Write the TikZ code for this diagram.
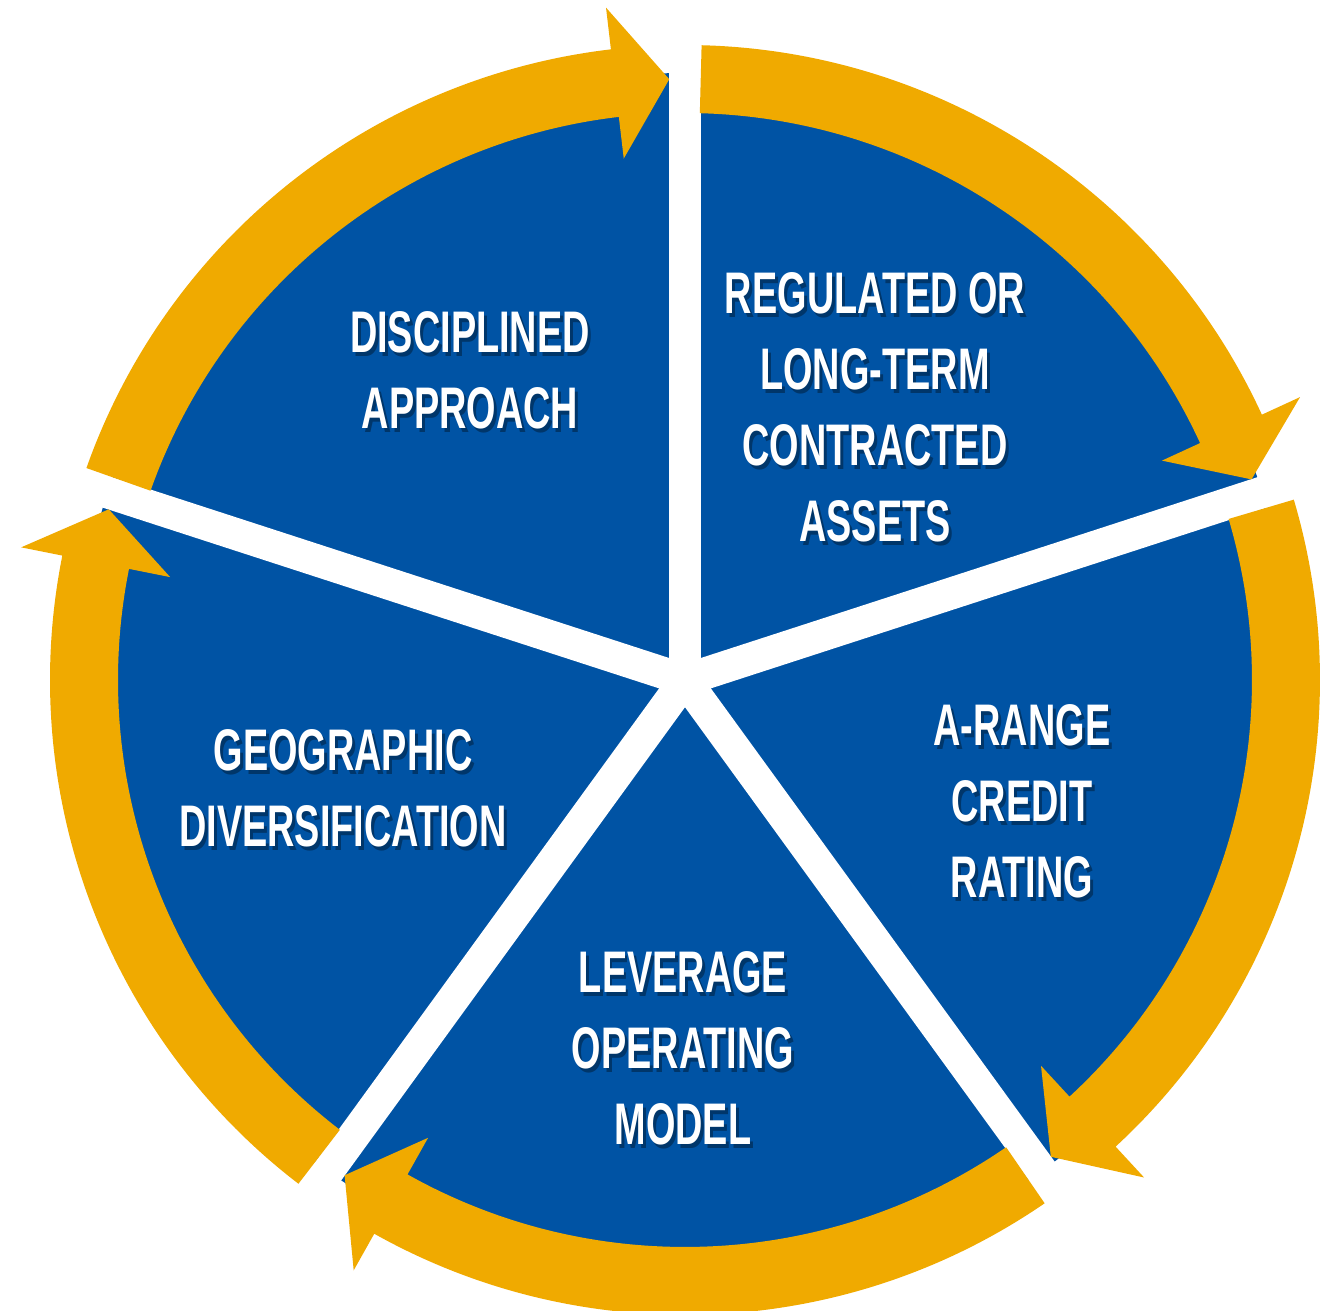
\documentclass[tikz,border=0pt]{standalone}
\usepackage{fontspec}
\setmainfont{Liberation Sans}
\newfontfamily\cyclefont{Liberation Sans}[FakeStretch=0.645]
\usepackage{tikz}
\usetikzlibrary{positioning}
\definecolor{cycleblue}{RGB}{0,83,164}
\definecolor{cycleorange}{RGB}{240,170,0}
\tikzset{
  seg text/.style={text=white, align=center, inner sep=0pt,
    font=\cyclefont\bfseries\fontsize{16.7}{21.6}\selectfont},
  seg shadow/.style={seg text, text=black, text opacity=0.35},
  gap/.style={white, line width=0.32cm},
  ring arrow/.style={fill=cycleorange, draw=none}
}

\begin{document}
\begin{tikzpicture}
  \useasboundingbox (-6.85,-6.31) rectangle (6.45,6.80);
  \fill[cycleblue] (0,0) circle (6.07);
  \foreach \b in {90,18,-54,-126,162}
    \draw[gap] (0,0) -- (\b:6.25);
  % orange arrows, clockwise
  \foreach \b in {162,90,18,-54,-126}{
    \pgfmathsetmacro\s{\b-1.5}
    \pgfmathsetmacro\t{\b-70.5}
    \pgfmathsetmacro\h{\b-65.3}
    \fill[ring arrow] (\s:6.35) arc[start angle=\s, end angle=\h, radius=6.35]
      -- (\h:6.77) -- (\t:6.01) -- (\h:5.25) -- (\h:5.67)
      arc[start angle=\h, end angle=\s, radius=5.67] -- cycle;
  }
  \node[seg shadow] at (-2.12,3.06) {DISCIPLINED\\APPROACH};
  \node[seg text] (disc) at (-2.15,3.095) {DISCIPLINED\\APPROACH};
  \node[seg shadow] at (1.93,2.69) {REGULATED OR\\LONG-TERM\\CONTRACTED\\ASSETS};
  \node[seg text] (regul) at (1.90,2.725) {REGULATED OR\\LONG-TERM\\CONTRACTED\\ASSETS};
  \node[seg shadow] at (3.40,-1.25) {A-RANGE\\CREDIT\\RATING};
  \node[seg text] (credit) at (3.37,-1.215) {A-RANGE\\CREDIT\\RATING};
  \node[seg shadow] at (0.01,-3.72) {LEVERAGE\\OPERATING\\MODEL};
  \node[seg text] (lever) at (-0.02,-3.685) {LEVERAGE\\OPERATING\\MODEL};
  \node[seg shadow] at (-3.39,-1.12) {GEOGRAPHIC\\DIVERSIFICATION};
  \node[seg text] (geo) at (-3.42,-1.085) {GEOGRAPHIC\\DIVERSIFICATION};
\end{tikzpicture}
\end{document}
